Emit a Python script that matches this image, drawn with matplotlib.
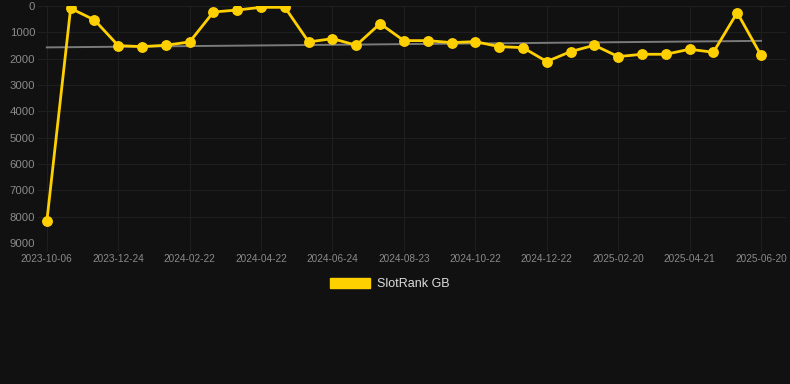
import numpy as np
import matplotlib
matplotlib.use("Agg")
from matplotlib import pyplot as plt
from matplotlib.patches import Patch

# category dates (only every 3rd one is labelled on the axis)
tick_labels = ['2023-10-06', '2023-12-24', '2024-02-22', '2024-04-22',
               '2024-06-24', '2024-08-23', '2024-10-22', '2024-12-22',
               '2025-02-20', '2025-04-21', '2025-06-20']

# SlotRank GB, one value per snapshot
ranks = [8180, 90, 530, 1505, 1543, 1490, 1365, 228, 152, 50, 50,
         1365, 1240, 1490, 670, 1315, 1315, 1390, 1353, 1543, 1580,
         2110, 1732, 1490, 1922, 1833, 1833, 1643, 1757, 253, 1871]

bg = '#111111'
yellow = '#FFD000'
grid_c = '#1f1f1f'
tick_c = '#8a8a8a'

W, H = 790, 384
fig = plt.figure(figsize=(W / 100, H / 100), dpi=100, facecolor=bg)
ax = fig.add_axes([38 / W, 1 - 243 / H, (786 - 38) / W, (243 - 6) / H])
ax.set_facecolor(bg)

x = np.arange(len(ranks))
# trend line
k, b = np.polyfit(x, ranks, 1)
ax.plot(x, k * x + b, color='#7a7a7a', lw=1.4, zorder=2)

ax.plot(x, ranks, color=yellow, lw=2.0, marker='o', markersize=6.8,
        markerfacecolor=yellow, markeredgecolor=yellow, zorder=3)

ax.set_ylim(9000, 0)
ax.set_yticks(range(0, 9001, 1000))
ax.set_xlim(-0.37, 31.05)
ax.set_xticks(x[::3])
ax.set_xticklabels(tick_labels)

ax.grid(True, color=grid_c, lw=0.8)
ax.set_axisbelow(True)
for s in ax.spines.values():
    s.set_visible(False)
ax.tick_params(axis='x', colors=grid_c, length=6, width=0.8, labelsize=7.2,
               labelcolor=tick_c, pad=2)
ax.tick_params(axis='y', length=0, labelsize=8.2, labelcolor=tick_c, pad=2)
for t in ax.get_yticklabels() + ax.get_xticklabels():
    t.set_fontfamily(['Liberation Sans', 'DejaVu Sans'])

handle = Patch(facecolor=yellow, edgecolor=yellow)
fig.legend([handle], ['SlotRank GB'], loc='center', bbox_to_anchor=(390 / W, 1 - 284 / H),
           frameon=False, labelcolor='#dddddd', handlelength=3.2,
           handleheight=0.95, handletextpad=0.55,
           prop={'family': ['Liberation Sans', 'DejaVu Sans'], 'size': 9})

fig.savefig('out.png', dpi=100, facecolor=bg)
